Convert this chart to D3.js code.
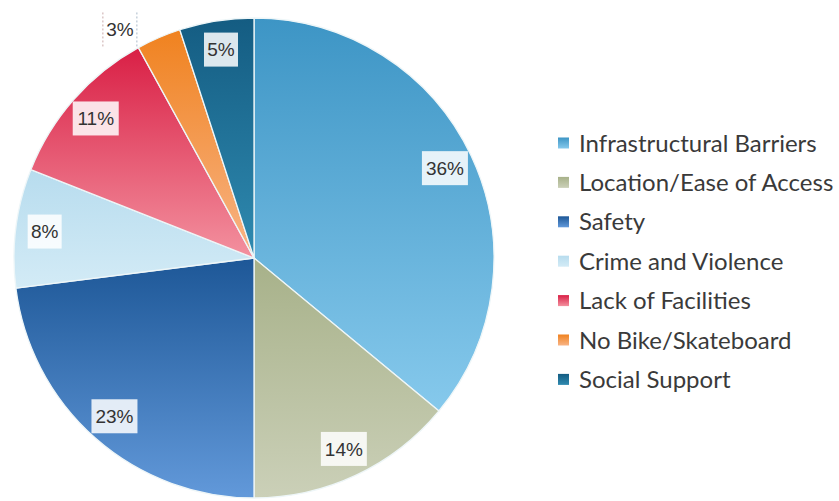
<!DOCTYPE html>
<html>
<head>
<meta charset="utf-8">
<script src="https://cdn.jsdelivr.net/npm/d3@7"></script>
<style>
  html, body { margin: 0; padding: 0; background: #ffffff; }
  svg { display: block; }
</style>
</head>
<body>
<svg id="chart" width="839" height="501"></svg>
<script>
// Reasons reported, in clockwise order from 12 o'clock
const categories = [
  "Infrastructural Barriers",
  "Location/Ease of Access",
  "Safety",
  "Crime and Violence",
  "Lack of Facilities",
  "No Bike/Skateboard",
  "Social Support"
];
const shares = [36, 14, 23, 8, 11, 3, 5];
// Gradient stops per slice: top colour, bottom colour
const topColors = ["#3d95c5", "#a7b189", "#1d5797", "#b7dcee", "#d91f45", "#f0821f", "#145c82"];
const bottomColors = ["#86c9ec", "#cbd0b8", "#6299da", "#d3ebf6", "#f3919f", "#f8b486", "#2f8ab0"];

const svg = d3.select("#chart");
const cx = 254, cy = 258, radius = 240;

const defs = svg.append("defs");
categories.forEach((c, i) => {
  const g = defs.append("linearGradient")
    .attr("id", "grad" + i)
    .attr("x1", 0).attr("y1", 0).attr("x2", 0).attr("y2", 1);
  g.append("stop").attr("offset", "0%").attr("stop-color", topColors[i]);
  g.append("stop").attr("offset", "100%").attr("stop-color", bottomColors[i]);
});

const data = categories.map((c, i) => ({ name: c, value: shares[i], index: i }));

const pie = d3.pie()
  .value(d => d.value)
  .sort(null)
  .startAngle(0)
  .endAngle(2 * Math.PI);

const arc = d3.arc().innerRadius(0).outerRadius(radius);
const arcs = pie(data);

const gPie = svg.append("g").attr("transform", `translate(${cx},${cy})`);

gPie.selectAll("path.slice")
  .data(arcs)
  .join("path")
  .attr("class", "slice")
  .attr("d", arc)
  .attr("fill", d => `url(#grad${d.data.index})`)
  .attr("stroke", "#eef6f8")
  .attr("stroke-width", 1.3)
  .attr("stroke-linejoin", "round");

// Percentage labels on white boxes; thin slices get theirs outside the rim,
// nudged off the slice's leading edge
const total = d3.sum(shares);
const isSmall = d => d.data.value / total < 0.04;
function labelPos(d) {
  if (isSmall(d)) {
    const a = d.startAngle - 0.028, r = 265;
    return [r * Math.sin(a), -r * Math.cos(a)];
  }
  const a = (d.startAngle + d.endAngle) / 2, r = 211;
  return [r * Math.sin(a), -r * Math.cos(a)];
}

const labels = gPie.selectAll("g.lbl")
  .data(arcs)
  .join("g")
  .attr("class", "lbl")
  .attr("transform", d => `translate(${labelPos(d)})`);

labels.each(function(d) {
  const g = d3.select(this);
  const txt = d.data.value + "%";
  const boxW = txt.length === 2 ? 34 : 46;
  const boxH = 34;
  const small = isSmall(d);
  g.append("rect")
    .attr("x", -boxW / 2).attr("y", -boxH / 2)
    .attr("width", boxW).attr("height", boxH)
    .attr("fill", "#ffffff")
    .attr("fill-opacity", small ? 1 : 0.85);
  if (small) {
    g.append("line")
      .attr("x1", -boxW / 2).attr("x2", -boxW / 2)
      .attr("y1", -boxH / 2).attr("y2", boxH / 2)
      .attr("stroke", "#c9a9a9").attr("stroke-width", 1)
      .attr("stroke-dasharray", "2,2");
    g.append("line")
      .attr("x1", boxW / 2).attr("x2", boxW / 2)
      .attr("y1", -boxH / 2).attr("y2", boxH / 2)
      .attr("stroke", "#a9b9c9").attr("stroke-width", 1)
      .attr("stroke-dasharray", "2,2");
  }
  g.append("text")
    .attr("text-anchor", "middle")
    .attr("dy", "0.36em")
    .attr("font-family", "'Liberation Sans', Arial, sans-serif")
    .attr("font-size", 19)
    .attr("fill", "#333333")
    .text(txt);
});

// Legend
const legend = svg.append("g").attr("transform", "translate(558,143)");
const rowGap = 39.4;
const rows = legend.selectAll("g.row")
  .data(data)
  .join("g")
  .attr("class", "row")
  .attr("transform", (d, i) => `translate(0,${i * rowGap})`);

rows.append("rect")
  .attr("x", 0).attr("y", -5.5)
  .attr("width", 11).attr("height", 11)
  .attr("fill", d => `url(#grad${d.index})`);

rows.append("text")
  .attr("x", 21)
  .attr("dy", "0.36em")
  .attr("font-family", "Lato, 'Open Sans', sans-serif")
  .attr("font-size", 24)
  .attr("fill", "#3a3a3a")
  .text(d => d.name);
</script>
</body>
</html>
